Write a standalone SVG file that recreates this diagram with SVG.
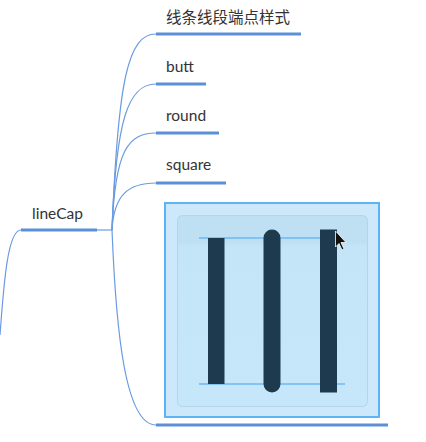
<svg xmlns="http://www.w3.org/2000/svg" width="426" height="442" viewBox="0 0 426 442">
<defs>
<style>
.t{font-family:Lato,"Noto Sans","Noto Sans CJK SC",sans-serif;font-size:15.5px;fill:#333}
.ul{stroke:#5b8fd6;stroke-width:3;fill:none}
.c{stroke:#6a9be0;stroke-width:1.2;fill:none}
.bar{fill:#1e3a4f}
.guide{stroke:#6ab8f5;stroke-width:1.5}
</style>
<linearGradient id="ig" x1="0" y1="0" x2="0" y2="1">
<stop offset="0" stop-color="#bfdff2"/>
<stop offset="0.14" stop-color="#bfdff2"/>
<stop offset="0.16" stop-color="#c3e5f7"/>
<stop offset="1" stop-color="#c6e7f9"/>
</linearGradient>
</defs>
<rect width="426" height="442" fill="#fff"/>
<g id="connectors">
<path class="c" d="M21 230 C8 230 4 280 0 335"/>
<path class="c" d="M97 230 L112 230"/>
<path class="c" d="M112 230 C118 80 128 34 156 34"/>
<path class="c" d="M112 230 C116 120 128 84 156 84"/>
<path class="c" d="M112 230 C115 150 128 133 156 133"/>
<path class="c" d="M112 230 C114 195 128 183 156 183"/>
<path class="c" d="M112 230 C116 330 125 425 156 425"/>
</g>
<g id="root">
<text class="t" x="32" y="219">lineCap</text>
<line class="ul" x1="21" y1="230" x2="97" y2="230"/>
</g>
<g id="n-title">
<text class="t" x="166" y="23" font-family="'Noto Sans CJK SC',sans-serif">线条线段端点样式</text>
<line class="ul" x1="156" y1="34" x2="301" y2="34"/>
</g>
<g id="n-butt">
<text class="t" x="166" y="72">butt</text>
<line class="ul" x1="156" y1="84" x2="206" y2="84"/>
</g>
<g id="n-round">
<text class="t" x="166" y="121">round</text>
<line class="ul" x1="156" y1="133" x2="219" y2="133"/>
</g>
<g id="n-square">
<text class="t" x="166" y="170">square</text>
<line class="ul" x1="156" y1="183" x2="226" y2="183"/>
</g>
<g id="n-image">
<rect x="165" y="203" width="214" height="214" fill="#cce8fa" stroke="#5ab4f5" stroke-width="2"/>
<rect x="177.5" y="215.5" width="190" height="191" rx="5" fill="url(#ig)" stroke="#b2d5ec" stroke-width="1"/>
<line class="guide" x1="199" y1="238" x2="334" y2="238"/>
<line class="guide" x1="199" y1="384" x2="345" y2="384"/>
<rect class="bar" x="208" y="238" width="16.5" height="146"/>
<rect class="bar" x="263.5" y="229.5" width="17" height="163" rx="8.5"/>
<rect class="bar" x="320" y="229.5" width="17" height="163"/>
<path d="M335.5 231 L335.5 247 L339 243.5 L342 250 L344 249 L341 242.5 L346 242.5 Z" fill="#111" stroke="#fff" stroke-width="0.8"/>
<line class="ul" x1="156" y1="425" x2="388" y2="425"/>
</g>
</svg>
